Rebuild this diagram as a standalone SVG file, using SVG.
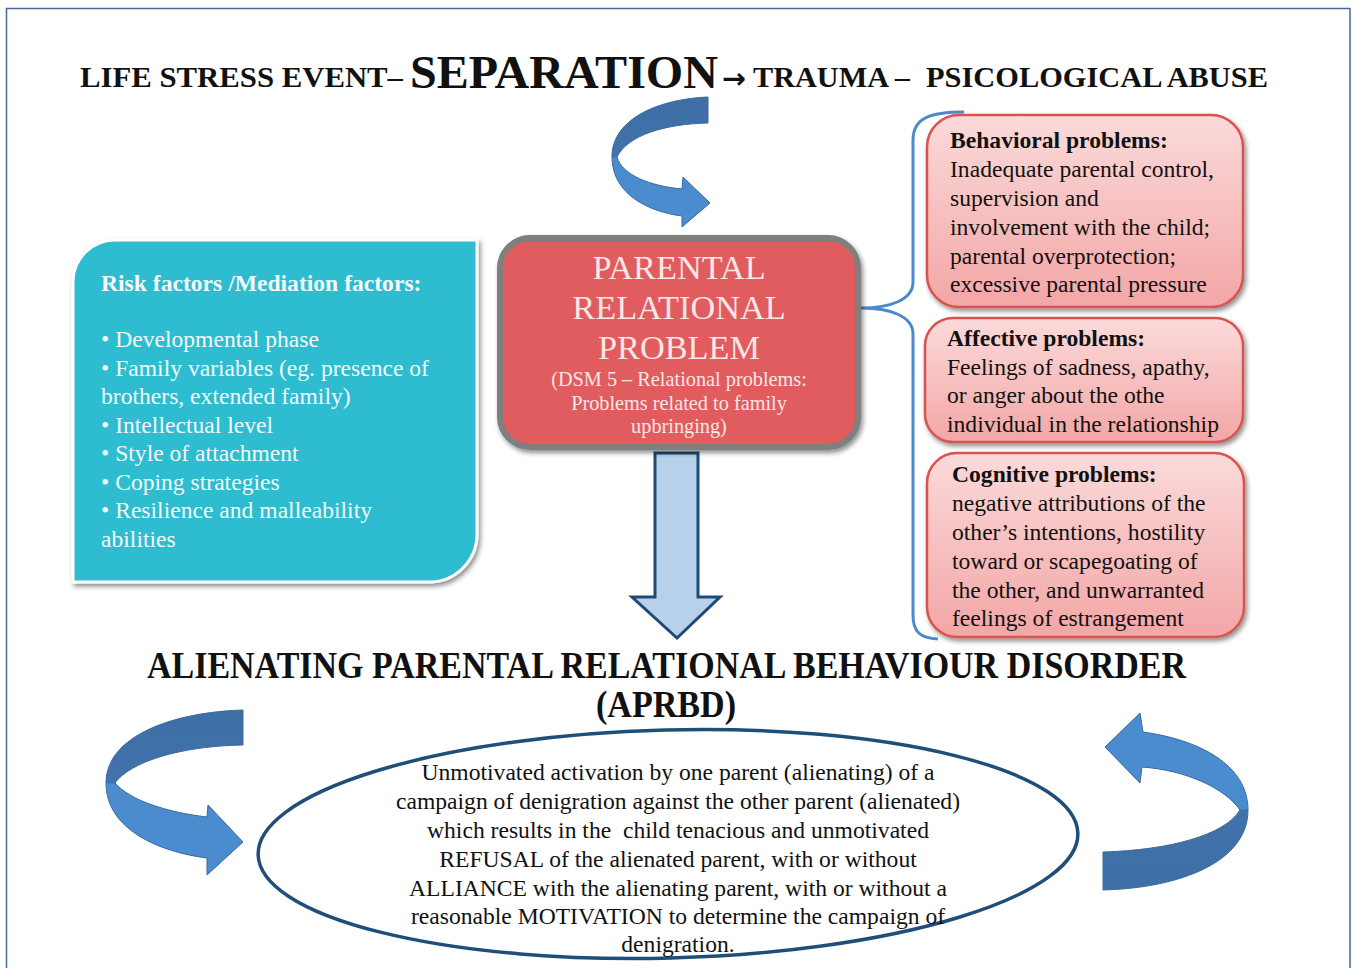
<svg xmlns="http://www.w3.org/2000/svg" width="1354" height="968" viewBox="0 0 1354 968">
<style>
.serif{font-family:"Liberation Serif","Times New Roman",serif}
.ttl{font-family:"Liberation Serif","Times New Roman",serif;font-weight:bold;fill:#111}
.white{fill:#F4FBFC}
.pk{fill:#FCE6E6}
.blk{fill:#111}
.b{font-weight:bold}
.curve{stroke:#3A6A9F;stroke-width:1}
</style>
<defs>
<linearGradient id="gTop" gradientUnits="userSpaceOnUse" x1="0" y1="97" x2="0" y2="227">
<stop offset="0" stop-color="#3D6EA6"/><stop offset="0.46" stop-color="#4172AB"/><stop offset="0.47" stop-color="#4A8CCD"/><stop offset="1" stop-color="#4A8CCD"/>
</linearGradient>
<linearGradient id="gLeft" gradientUnits="userSpaceOnUse" x1="0" y1="710" x2="0" y2="875">
<stop offset="0" stop-color="#3D6EA6"/><stop offset="0.44" stop-color="#4172AB"/><stop offset="0.45" stop-color="#4A8CCD"/><stop offset="1" stop-color="#4A8CCD"/>
</linearGradient>
<linearGradient id="gRight" gradientUnits="userSpaceOnUse" x1="0" y1="713" x2="0" y2="890">
<stop offset="0" stop-color="#4A8CCD"/><stop offset="0.54" stop-color="#4A8CCD"/><stop offset="0.55" stop-color="#4172AB"/><stop offset="1" stop-color="#3D6EA6"/>
</linearGradient>
<linearGradient id="gPink" x1="0" y1="0" x2="0" y2="1">
<stop offset="0" stop-color="#FBDADA"/><stop offset="1" stop-color="#F3A6A6"/>
</linearGradient>
<filter id="sh" x="-10%" y="-10%" width="120%" height="125%">
<feGaussianBlur in="SourceAlpha" stdDeviation="2.5"/>
<feOffset dx="2" dy="3" result="o"/>
<feComponentTransfer><feFuncA type="linear" slope="0.45"/></feComponentTransfer>
<feMerge><feMergeNode/><feMergeNode in="SourceGraphic"/></feMerge>
</filter>
</defs>
<rect x="0" y="0" width="1354" height="968" fill="#FFFFFF"/>
<rect x="6.5" y="8.5" width="1343.5" height="975" fill="none" stroke="#46699A" stroke-width="1.5"/>

<g id="title">
<text class="ttl" x="80" y="87" font-size="30" textLength="323" lengthAdjust="spacingAndGlyphs">LIFE STRESS EVENT–</text>
<text class="ttl" x="410" y="88" textLength="336" lengthAdjust="spacingAndGlyphs"><tspan font-size="47">SEPARATION</tspan><tspan font-size="28" dx="4" style="font-family:'DejaVu Sans',sans-serif">→</tspan></text>
<text class="ttl" x="753" y="87" font-size="30" textLength="157" lengthAdjust="spacingAndGlyphs">TRAUMA –</text>
<text class="ttl" x="926" y="87" font-size="30" textLength="342" lengthAdjust="spacingAndGlyphs">PSICOLOGICAL ABUSE</text>
</g>

<g id="connectors">
<path id="arrow-top" class="curve" fill="url(#gTop)" d="M708,97 C660,99 612,118 612,157 C612,195 650,212 682,216 L682,227 L710,203 L683,177 L682,189 C650,186 622,175 617,157 C628,135 665,124 708,123 Z"/>
<path id="arrow-down" d="M655,453 H698 V597 H720 L677,638 L632,597 H655 Z" fill="#B7D1EA" stroke="#1F4A78" stroke-width="3"/>
<path id="bracket" d="M964,112 C930,112 913,118 913,140 V282 C913,300 890,308 861,308 C890,308 913,316 913,334 V615 C913,632 920,638 938,639" fill="none" stroke="#4A8ACB" stroke-width="3"/>
<path id="arrow-left" class="curve" fill="url(#gLeft)" d="M243,710 C175,712 106,735 106,783 C106,830 160,852 207,858 L207,875 L243,842 L208,805 L207,817 C165,812 130,800 115,783 C130,762 180,746 243,745 Z"/>
<path id="arrow-right" class="curve" fill="url(#gRight)" d="M1103,890 C1180,888 1248,862 1248,810 C1248,765 1200,740 1143,732 L1140,713 L1105,747 L1140,783 L1142,767 C1185,770 1225,788 1240,810 C1225,835 1170,850 1103,852 Z"/>
</g>

<g id="node-risk">
<path d="M115,240 H477 V534 A48,48 0 0 1 429,582 H73 V282 A42,42 0 0 1 115,240 Z" fill="#2EBCD0" stroke="#FFFFFF" stroke-width="3" filter="url(#sh)"/>
<text class="serif white b" x="101" y="291" font-size="23.6">Risk factors /Mediation factors:</text>
<g class="serif white" font-size="23.6">
<text x="101" y="347">• Developmental phase</text>
<text x="101" y="376">• Family variables (eg. presence of</text>
<text x="101" y="404">brothers, extended family)</text>
<text x="101" y="433">• Intellectual level</text>
<text x="101" y="461">• Style of attachment</text>
<text x="101" y="490">• Coping strategies</text>
<text x="101" y="518">• Resilience and malleability</text>
<text x="101" y="547">abilities</text>
</g>
</g>

<g id="node-prp">
<rect x="500" y="238" width="358" height="209" rx="30" fill="#E05B5E" stroke="#7F7F7F" stroke-width="6" filter="url(#sh)"/>
<g class="serif pk" text-anchor="middle">
<text x="679" y="279" font-size="34.3">PARENTAL</text>
<text x="679" y="319" font-size="34.3">RELATIONAL</text>
<text x="679" y="359" font-size="34.3">PROBLEM</text>
<text x="679" y="386" font-size="20.3">(DSM 5 – Relational problems:</text>
<text x="679" y="410" font-size="20.3">Problems related to family</text>
<text x="679" y="433" font-size="20.3">upbringing)</text>
</g>
</g>

<g id="node-behavioral">
<rect x="927" y="115" width="316" height="192" rx="32" fill="url(#gPink)" stroke="#D9534F" stroke-width="2.5" filter="url(#sh)"/>
<g class="serif blk" font-size="23.6">
<text class="b" x="950" y="148">Behavioral problems:</text>
<text x="950" y="177">Inadequate parental control,</text>
<text x="950" y="206">supervision and</text>
<text x="950" y="235">involvement with the child;</text>
<text x="950" y="264">parental overprotection;</text>
<text x="950" y="292">excessive parental pressure</text>
</g>
</g>

<g id="node-affective">
<rect x="925" y="318" width="318" height="124" rx="28" fill="url(#gPink)" stroke="#D9534F" stroke-width="2.5" filter="url(#sh)"/>
<g class="serif blk" font-size="23.6">
<text class="b" x="947" y="346">Affective problems:</text>
<text x="947" y="375">Feelings of sadness, apathy,</text>
<text x="947" y="403">or anger about the othe</text>
<text x="947" y="432">individual in the relationship</text>
</g>
</g>

<g id="node-cognitive">
<rect x="927" y="453" width="317" height="184" rx="30" fill="url(#gPink)" stroke="#D9534F" stroke-width="2.5" filter="url(#sh)"/>
<g class="serif blk" font-size="23.6">
<text class="b" x="952" y="482">Cognitive problems:</text>
<text x="952" y="511">negative attributions of the</text>
<text x="952" y="540">other’s intentions, hostility</text>
<text x="952" y="569">toward or scapegoating of</text>
<text x="952" y="598">the other, and unwarranted</text>
<text x="952" y="626">feelings of estrangement</text>
</g>
</g>

<g id="heading">
<text class="ttl" x="147" y="678" font-size="38" textLength="1039" lengthAdjust="spacingAndGlyphs">ALIENATING PARENTAL RELATIONAL BEHAVIOUR DISORDER</text>
<text class="ttl" x="596" y="717" font-size="38" textLength="140" lengthAdjust="spacingAndGlyphs">(APRBD)</text>
</g>

<g id="node-aprbd">
<ellipse cx="668" cy="844" rx="410" ry="114" transform="rotate(-1.5 668 844)" fill="#FFFFFF" stroke="#1F4E79" stroke-width="3.5"/>
<g class="serif blk" font-size="23.6" text-anchor="middle">
<text x="678" y="780">Unmotivated activation by one parent (alienating) of a</text>
<text x="678" y="809">campaign of denigration against the other parent (alienated)</text>
<text x="678" y="838" xml:space="preserve">which results in the  child tenacious and unmotivated</text>
<text x="678" y="867">REFUSAL of the alienated parent, with or without</text>
<text x="678" y="896">ALLIANCE with the alienating parent, with or without a</text>
<text x="678" y="924">reasonable MOTIVATION to determine the campaign of</text>
<text x="678" y="952">denigration.</text>
</g>
</g>
</svg>
